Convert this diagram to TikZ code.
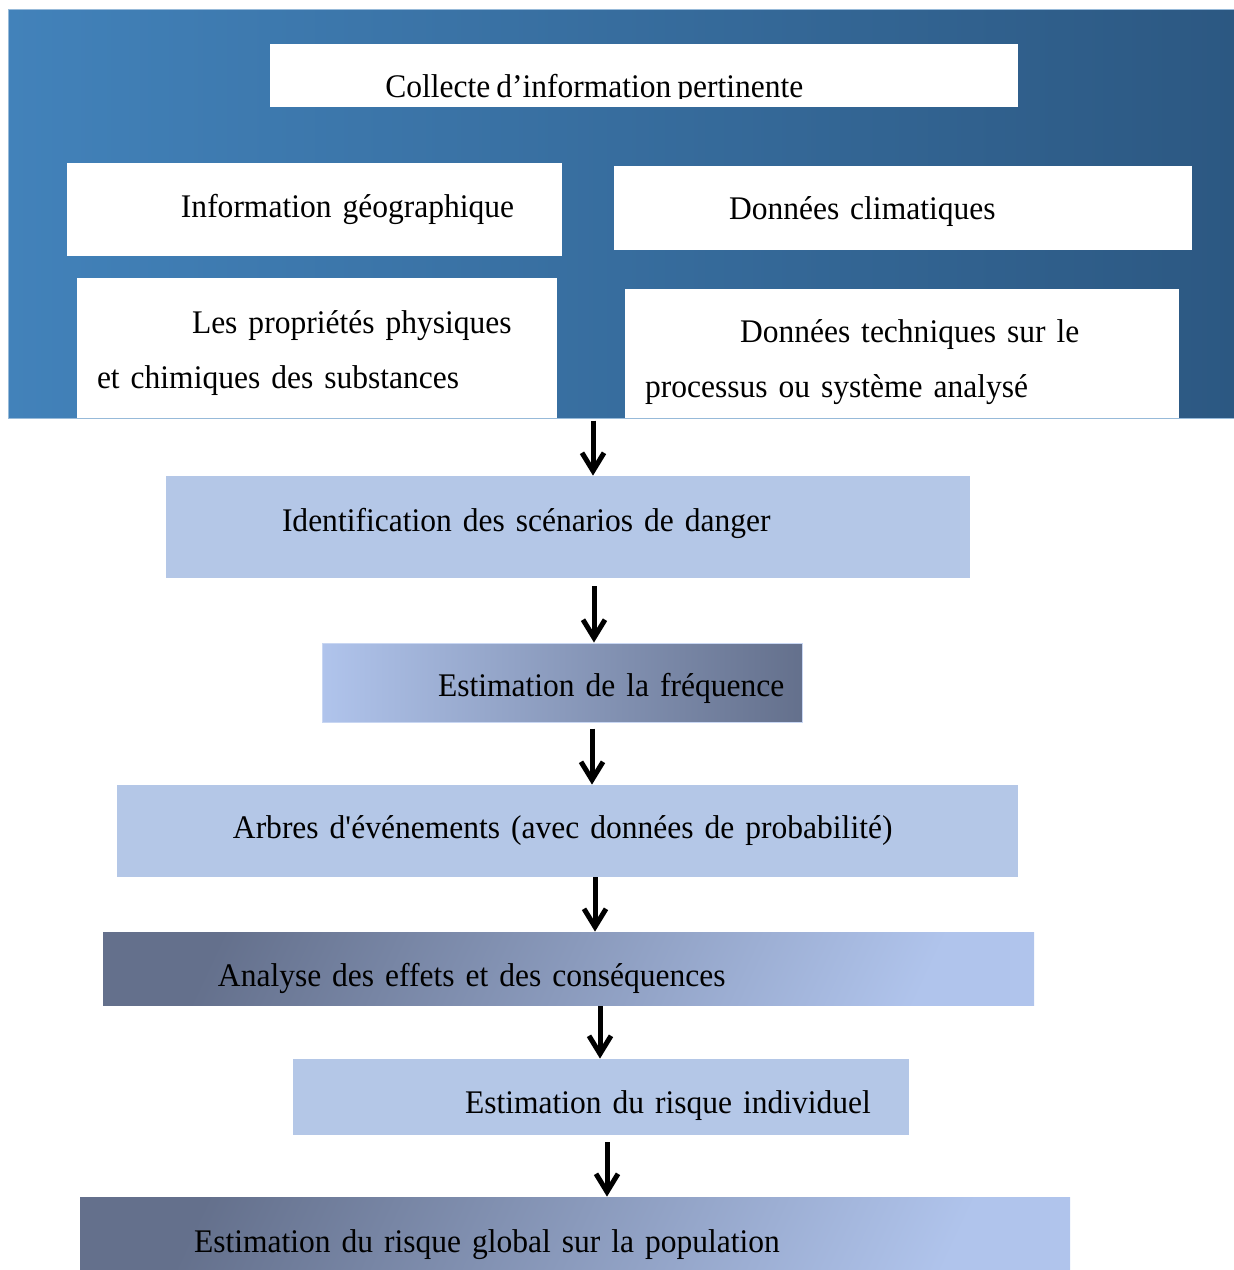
\documentclass[tikz,border=0pt]{standalone}
\usepackage{fontspec}
\setmainfont{Liberation Serif}[FakeStretch=0.955, WordSpace=0.75]
\usepackage{tikz}
\usetikzlibrary{positioning, arrows.meta}
\definecolor{panelleft}{RGB}{66,130,186}
\definecolor{panelright}{RGB}{44,88,130}
\definecolor{stepblue}{RGB}{180,199,231}
\definecolor{shadelight}{RGB}{176,196,236}
\definecolor{shadedark}{RGB}{100,112,140}

\begin{document}
\begin{tikzpicture}[
  x=0.5pt, y=-0.5pt,
  every node/.style={font=\fontsize{16.5pt}{27.5pt}\selectfont, inner xsep=0pt, inner ysep=0pt, align=left},
  panelbox/.style={left color=panelleft, right color=panelright, draw=panelleft!55!white, line width=0.5pt},
  whitebox/.style={fill=white},
  stepbox/.style={fill=stepblue},
  sidebox/.style={left color=shadelight, right color=shadedark, draw=shadelight!70!white, line width=0.5pt},
  diagbox/.style={shading=axis, top color=shadedark, bottom color=shadelight, shading angle=65},
  oneline/.style={text height=#1, text depth=4pt},
  arrow/.style={line width=2.5pt, -{Straight Barb[length=9pt, width=11pt]}},
]

  \useasboundingbox (0,0) rectangle (1234,1270);

  % Blue panel with the collected information
  \node (panel) [panelbox, minimum width=613pt, minimum height=204.5pt] at (621,213.5) {};
  \node (collecte) [whitebox, minimum width=374pt, minimum height=31.5pt] at (644,75.5) {};
  \begin{scope}
    \clip (collecte.north west) rectangle (collecte.east |- 0,98);
    \node (collectetext) [anchor=base west] at (385,97) {Collecte d’information pertinente};
  \end{scope}

  \node (geo) [whitebox, oneline=11.5pt, text width=247.5pt, minimum height=46.5pt] at (314.5,209.5)
    {\hspace*{57pt}Information géographique};
  \node (climat) [whitebox, oneline=15pt, text width=289pt, minimum height=42pt] at (903,208)
    {\hspace*{57.5pt}Données climatiques};
  \node (proprietes) [whitebox, text width=240pt, minimum height=70pt] at (317,348)
    {\rule{0pt}{16.3pt}\hspace*{57.5pt}Les propriétés physiques\\\hspace*{10pt}et chimiques des substances};
  \node (techniques) [whitebox, text width=277pt, minimum height=64.5pt] at (902,353.5)
    {\rule{0pt}{20.3pt}\hspace*{57.5pt}Données techniques sur le\\\hspace*{10pt}processus ou système analysé};

  % Steps of the analysis
  \node (ident) [stepbox, oneline=8.5pt, text width=402pt, minimum height=51pt] at (568,527)
    {\hspace*{58pt}Identification des scénarios de danger};
  \node (freq) [sidebox, oneline=17.5pt, text width=240pt, minimum height=39.5pt] at (562,682.5)
    {\hspace*{58pt}Estimation de la fréquence};
  \node (arbres) [stepbox, oneline=11.5pt, text width=450.5pt, minimum height=46pt] at (567.5,831)
    {\hspace*{58pt}Arbres d\textquotesingle événements (avec données de probabilité)};
  \node (analyse) [diagbox, oneline=21.5pt, text width=465.5pt, minimum height=36.5pt] at (568.5,968.5)
    {\hspace*{57.5pt}Analyse des effets et des conséquences};
  \node (indiv) [stepbox, oneline=20pt, text width=308pt, minimum height=38pt] at (601,1097)
    {\hspace*{86pt}Estimation du risque individuel};
  \node (global) [diagbox, oneline=23pt, text width=495pt, minimum height=36.5pt] at (575,1233.5)
    {\hspace*{57pt}Estimation du risque global sur la population};

  % Arrows between the steps
  \foreach \a/\b/\x/\g in {panel/ident/593/1, ident/freq/594/4, freq/arbres/592/3, arbres/analyse/595/0, analyse/indiv/600/0.5, indiv/global/607/3.5} {
    \draw [arrow, shorten <=\g pt] (\a.south -| \x,0) -- (\b.north -| \x,0);
  }

\end{tikzpicture}
\end{document}
